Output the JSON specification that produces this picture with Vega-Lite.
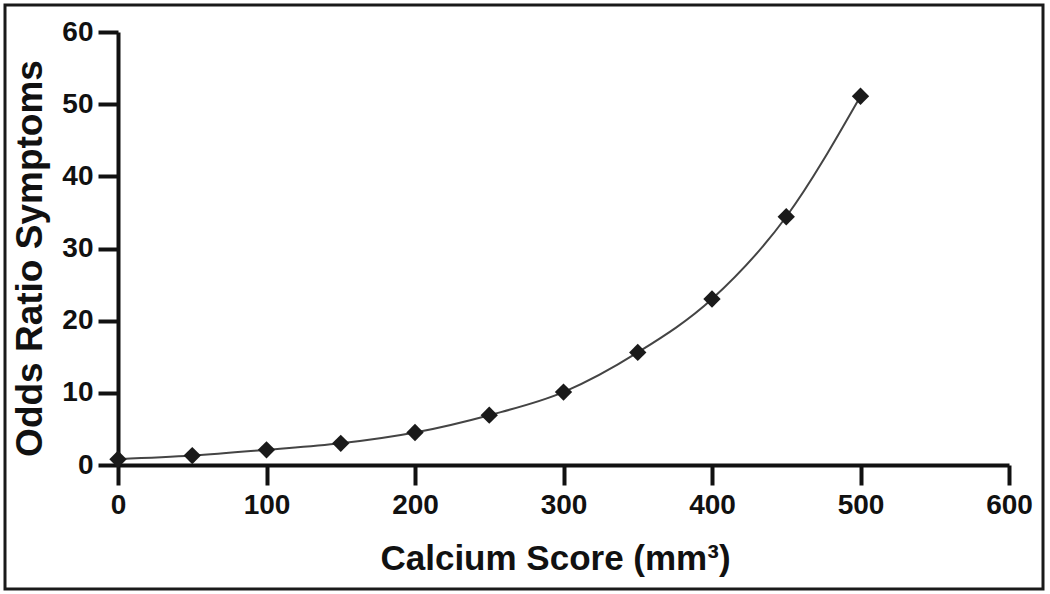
{
  "$schema": "https://vega.github.io/schema/vega-lite/v6.json",
  "width": 1038,
  "height": 584,
  "autosize": {"type": "none"},
  "padding": {"left": 5, "top": 5, "right": 7, "bottom": 5},
  "background": "white",
  "config": {
    "view": {"stroke": "#1a1a1a", "strokeWidth": 3},
    "font": "Liberation Sans",
    "axis": {
      "grid": false,
      "domainColor": "#111",
      "domainWidth": 4,
      "tickColor": "#111",
      "tickWidth": 4,
      "tickSize": 20,
      "labelFlush": false,
      "labelFont": "Liberation Sans",
      "labelFontWeight": "bold",
      "labelFontSize": 28,
      "labelColor": "#111",
      "titleFont": "Liberation Sans",
      "titleFontWeight": "bold",
      "titleColor": "#111"
    }
  },
  "data": {
    "values": [
      {"score": 0, "odds": 0.8},
      {"score": 50, "odds": 1.3},
      {"score": 100, "odds": 2.1},
      {"score": 150, "odds": 3.0},
      {"score": 200, "odds": 4.5},
      {"score": 250, "odds": 6.9},
      {"score": 300, "odds": 10.1},
      {"score": 350, "odds": 15.6},
      {"score": 400, "odds": 23.0},
      {"score": 450, "odds": 34.4},
      {"score": 500, "odds": 51.1}
    ]
  },
  "encoding": {
    "x": {
      "field": "score",
      "type": "quantitative",
      "scale": {"domain": [0, 600], "range": [113, 1004], "nice": false},
      "axis": {
        "title": "Calcium Score (mm³)",
        "titleFontSize": 35,
        "titleX": 550,
        "values": [0, 100, 200, 300, 400, 500, 600],
        "offset": -124,
        "labelPadding": 6,
        "titlePadding": 22
      }
    },
    "y": {
      "field": "odds",
      "type": "quantitative",
      "scale": {"domain": [0, 60], "range": [460, 27], "nice": false},
      "axis": {
        "title": "Odds Ratio Symptoms",
        "titleFontSize": 37,
        "titleY": 253,
        "values": [0, 10, 20, 30, 40, 50, 60],
        "offset": -113,
        "labelPadding": 5,
        "titlePadding": 12
      }
    }
  },
  "layer": [
    {
      "mark": {"type": "line", "color": "#444", "strokeWidth": 2, "interpolate": "monotone"}
    },
    {
      "mark": {"type": "point", "shape": "diamond", "filled": true, "color": "#1a1a1a", "opacity": 1, "size": 300}
    }
  ]
}
